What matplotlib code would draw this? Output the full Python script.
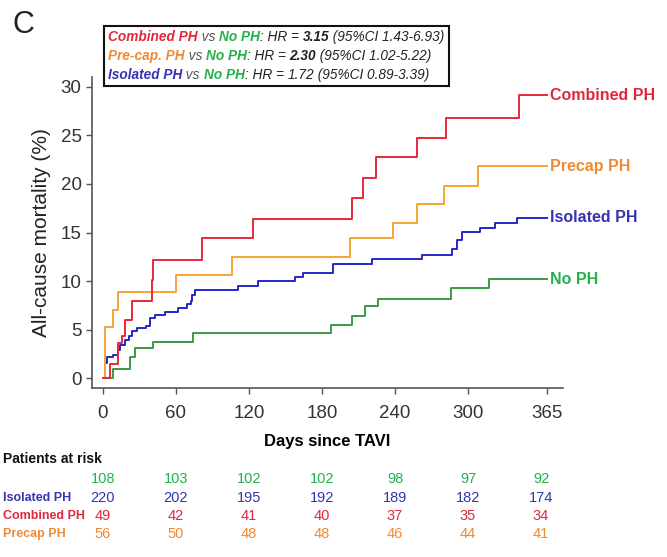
import matplotlib
matplotlib.use("Agg")
import matplotlib.pyplot as plt
from matplotlib.offsetbox import TextArea, HPacker, VPacker, AnnotationBbox

plt.rcParams['font.family'] = ['Liberation Sans', 'DejaVu Sans']

# ---- data ----
combined_days = [0, 6, 12, 16, 18, 24, 40, 41, 81, 123, 205, 214, 224, 258, 282, 342, 365]
combined_vals = [0, 1.5, 3.6, 4.4, 6.0, 8.0, 10.1, 12.2, 14.4, 16.4, 18.5, 20.6, 22.8, 24.7, 26.8, 29.1, 29.1]

precap_days = [0, 1.6, 8, 12, 60, 106, 203, 238, 258, 280, 308, 365]
precap_vals = [0, 5.3, 7.0, 8.9, 10.6, 12.5, 14.4, 16.0, 17.9, 19.8, 21.8, 21.8]

isolated_days = [0, 1.5, 3, 8, 12, 14, 18, 21, 24, 28, 35, 39, 43, 51, 62, 69, 72, 73, 76,
                 111, 127, 158, 164, 189, 221, 262, 287, 291, 295, 310, 322, 340, 365]
isolated_vals = [0, 1.6, 2.2, 2.4, 2.9, 3.4, 3.9, 4.4, 4.9, 5.2, 5.4, 6.2, 6.5, 6.8, 7.2, 7.6, 8.0, 8.6, 9.1,
                 9.5, 10.0, 10.4, 10.8, 11.8, 12.3, 12.7, 13.3, 14.2, 15.1, 15.5, 16.0, 16.5, 16.5]

noph_days = [0, 8, 22, 26, 41, 74, 187, 205, 215, 226, 286, 317, 365]
noph_vals = [0, 1.0, 2.2, 3.1, 3.7, 4.7, 5.5, 6.4, 7.4, 8.2, 9.3, 10.2, 10.2]

risk_days = [0, 60, 120, 180, 240, 300, 360]
risk_noph = [108, 103, 102, 102, 98, 97, 92]
risk_isolated = [220, 202, 195, 192, 189, 182, 174]
risk_combined = [49, 42, 41, 40, 37, 35, 34]
risk_precap = [56, 50, 48, 48, 46, 44, 41]

x_ticks = [0, 60, 120, 180, 240, 300, 365]
y_ticks = [0, 5, 10, 15, 20, 25, 30]

# ---- colours ----
c_red = '#e8283a'
c_orange = '#f7a437'
c_blue = '#2626c8'
c_green = '#3a9a46'
t_red = '#e0283c'
t_orange = '#ef8a34'
t_blue = '#3434b4'
t_green = '#22b24c'

fig = plt.figure(figsize=(6.67, 5.57), dpi=100)
W, H = 667, 557
ax = fig.add_axes([92 / W, 1 - 388 / H, (563 - 92) / W, (388 - 77) / H])

lw = 1.4
ax.step(noph_days, noph_vals, where='post', color=c_green, lw=lw)
ax.step(isolated_days, isolated_vals, where='post', color=c_blue, lw=lw)
ax.step(precap_days, precap_vals, where='post', color=c_orange, lw=lw)
ax.step(combined_days, combined_vals, where='post', color=c_red, lw=lw)

ax.set_xlim(-9, 378)
ax.set_ylim(-1, 31)
ax.set_xticks(x_ticks)
ax.set_yticks(y_ticks)
for s in ['top', 'right']:
    ax.spines[s].set_visible(False)
for s in ['left', 'bottom']:
    ax.spines[s].set_color('#555555')
    ax.spines[s].set_linewidth(1.2)
ax.tick_params(axis='both', direction='out', length=4, width=1, color='#555555',
               labelsize=13.5, labelcolor='#333333')
ax.tick_params(axis='x', pad=8)
ax.set_xlabel('Days since TAVI', fontsize=12, fontweight='bold', labelpad=9)
ax.set_ylabel('All-cause mortality (%)', fontsize=15, labelpad=7, color='#222222')

# end-of-curve labels
end_labels = [('Combined PH', combined_vals[-1], t_red),
              ('Precap PH', precap_vals[-1], t_orange),
              ('Isolated PH', isolated_vals[-1], t_blue),
              ('No PH', noph_vals[-1], t_green)]
for txt, v, c in end_labels:
    ax.text(367, v, txt, color=c, fontsize=11.5, fontweight='bold', va='center', ha='left',
            clip_on=False)

# numbers at risk
def ypix(p):
    return 1 - p / H
fig.text(3 / W, ypix(459), 'Patients at risk', fontsize=10, fontweight='bold',
         ha='left', va='center', color='#111111')
xt = ax.get_xaxis_transform()
rows = [(risk_noph, t_green, None, 479),
        (risk_isolated, t_blue, 'Isolated PH', 498),
        (risk_combined, t_red, 'Combined PH', 516),
        (risk_precap, t_orange, 'Precap PH', 534)]
for vals, c, lab, yp in rows:
    ya = (388 - yp) / (388 - 77)
    for d, v in zip(risk_days, vals):
        ax.text(d, ya, str(v), transform=xt, color=c, fontsize=10.5, ha='center',
                va='center', clip_on=False)
    if lab:
        fig.text(3 / W, ypix(yp), lab, color=c, fontsize=9, fontweight='bold',
                 ha='left', va='center')

# HR box
fs = 9.85
def ta(s, c, bold=False):
    return TextArea(s, textprops=dict(color=c, fontsize=fs, style='italic',
                                      fontweight='bold' if bold else 'normal'))
grey = '#555555'
black = '#222222'
line1 = HPacker(children=[ta('Combined PH', t_red, True), ta(' vs ', grey), ta('No PH', t_green, True),
                          ta(': HR = ', black), ta('3.15', black, True),
                          ta(' (95%CI 1.43-6.93)', black)], sep=0, pad=0, align='baseline')
line2 = HPacker(children=[ta('Pre-cap. PH', t_orange, True), ta(' vs ', grey), ta('No PH', t_green, True),
                          ta(': HR = ', black), ta('2.30', black, True),
                          ta(' (95%CI 1.02-5.22)', black)], sep=0, pad=0, align='baseline')
line3 = HPacker(children=[ta('Isolated PH', t_blue, True), ta(' vs ', grey), ta('No PH', t_green, True),
                          ta(': HR = ', black), ta('1.72', black, False),
                          ta(' (95%CI 0.89-3.39)', black)], sep=0, pad=0, align='baseline')
vp = VPacker(children=[line1, line2, line3], sep=3.5, pad=0, align='left')
ab = AnnotationBbox(vp, (108 / W, 1 - 30 / H), xycoords='figure fraction', box_alignment=(0, 1),
                    frameon=True, pad=0.35,
                    bboxprops=dict(edgecolor='#111111', linewidth=1.5, boxstyle='square', facecolor='white'))
fig.add_artist(ab)

fig.text(13 / W, 1 - 25 / H, 'C', fontsize=22, va='center', ha='left', color='#222222')

fig.savefig('out.png', dpi=100)
